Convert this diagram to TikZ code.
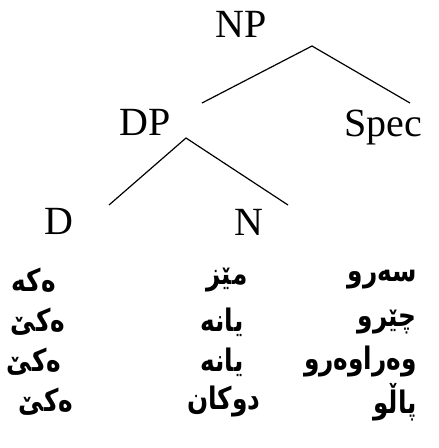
\documentclass[tikz,border=0pt]{standalone}
\usepackage{fontspec}
\setmainfont{Liberation Serif}
\newfontfamily\arabicfont[Script=Arabic,FakeStretch=0.8]{DejaVu Sans}
\TeXXeTstate=1
\begin{document}
\begin{tikzpicture}
        [x=1pt,y=-1pt,
         cat/.style={inner sep=0pt, anchor=base, font=\fontsize{40}{40}\selectfont},
         word/.style={inner sep=0pt, font=\arabicfont\bfseries\fontsize{31}{31}\selectfont},
         branch/.style={line width=1.2pt}]
        \useasboundingbox (0,0) rectangle (439,448);
        %\draw[help lines] (0,0) grid (439,448);
        \node[cat] (np) at (241,37) {NP};
        \node[cat] (dp) at (145,135) {DP};
        \node[cat] (spec) at (383,136) {Spec};
        \node[cat] (d) at (59,234) {D};
        \node[cat] (n) at (249,235) {N};
        \coordinate (npjoin) at (312,46);
        \coordinate (dpjoin) at (186,138);
        \coordinate (dpend) at (202,103);
        \coordinate (specend) at (410,103);
        \coordinate (dend) at (109,205);
        \coordinate (nend) at (288,205);
        \draw[branch] (dpend) -- (npjoin) -- (specend);
        \draw[branch] (dend) -- (dpjoin) -- (nend);
        % word rows
        \node[word, anchor=east] (r1) at (417,280) {\beginR سەرو\endR};
        \node[word] (m1) at (227,280) {\beginR مێز\endR};
        \node[word] (l1) at (34,280) {\beginR ەکە\endR};
        \node[word, anchor=east] (r2) at (417,322) {\beginR چێرو\endR};
        \node[word] (m2) at (222,322) {\beginR یانە\endR};
        \node[word] (l2) at (38,322) {\beginR ەکێ\endR};
        \node[word, anchor=east] (r3) at (417,362) {\beginR وەراوەرو\endR};
        \node[word] (m3) at (222,362) {\beginR یانە\endR};
        \node[word] (l3) at (34,362) {\beginR ەکێ\endR};
        \node[word, anchor=east] (r4) at (417,402) {\beginR پاڵو\endR};
        \node[word] (m4) at (224,402) {\beginR دوکان\endR};
        \node[word] (l4) at (46,402) {\beginR ەکێ\endR};
\end{tikzpicture}
\end{document}
